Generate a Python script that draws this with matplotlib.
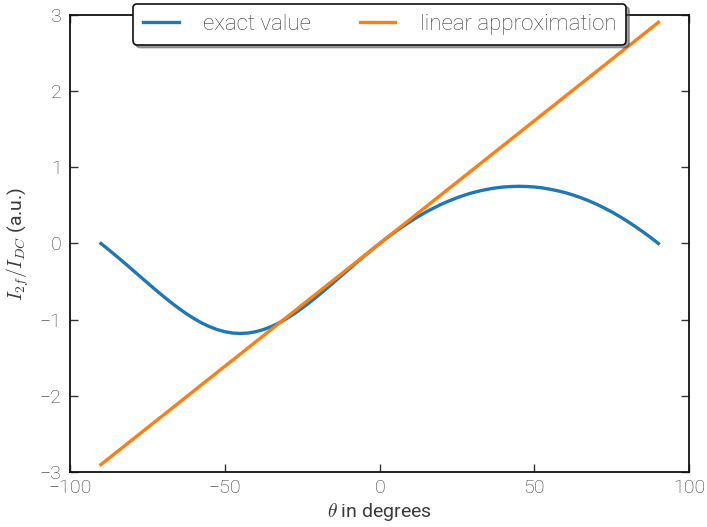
import matplotlib
matplotlib.use("Agg")
import matplotlib.pyplot as plt

plt.rcParams['font.family'] = ['Roboto', 'DejaVu Sans']
plt.rcParams['font.weight'] = 'light'
plt.rcParams['mathtext.fontset'] = 'cm'
plt.rcParams['axes.unicode_minus'] = True

# angle in degrees and the measured signal ratio
theta_deg = [-90, -87.5, -85, -82.5, -80, -77.5, -75, -72.5, -70, -67.5, -65, -62.5,
             -60, -57.5, -55, -52.5, -50, -47.5, -45, -42.5, -40, -37.5, -35, -32.5,
             -30, -27.5, -25, -22.5, -20, -17.5, -15, -12.5, -10, -7.5, -5, -2.5,
             0, 2.5, 5, 7.5, 10, 12.5, 15, 17.5, 20, 22.5, 25, 27.5, 30, 32.5, 35,
             37.5, 40, 42.5, 45, 47.5, 50, 52.5, 55, 57.5, 60, 62.5, 65, 67.5, 70,
             72.5, 75, 77.5, 80, 82.5, 85, 87.5, 90]
exact_value = [0.0, -0.082, -0.166, -0.252, -0.340, -0.428, -0.516, -0.603, -0.688,
               -0.770, -0.847, -0.919, -0.984, -1.042, -1.090, -1.129, -1.157, -1.175,
               -1.180, -1.175, -1.157, -1.129, -1.090, -1.042, -0.984, -0.919, -0.847,
               -0.770, -0.688, -0.603, -0.516, -0.428, -0.340, -0.252, -0.166, -0.082,
               0.0, 0.079, 0.153, 0.224, 0.291, 0.354, 0.413, 0.466, 0.516, 0.560,
               0.600, 0.635, 0.666, 0.691, 0.712, 0.729, 0.741, 0.747, 0.750, 0.747,
               0.741, 0.729, 0.712, 0.691, 0.666, 0.635, 0.600, 0.560, 0.516, 0.466,
               0.413, 0.354, 0.291, 0.224, 0.153, 0.079, 0.0]

linear_theta = [-90, 90]
linear_value = [-2.90, 2.90]

xticks = [-100, -50, 0, 50, 100]
yticks = [-3, -2, -1, 0, 1, 2, 3]

text_color = '#3a3a3a'

fig = plt.figure(figsize=(7.07, 5.27), dpi=100)
ax = fig.add_axes([0.099, 0.104, 0.876, 0.868])

ax.plot(theta_deg, exact_value, color='#1f77b4', lw=2.4, label='exact value',
        solid_joinstyle='round')
ax.plot(linear_theta, linear_value, color='#ff7f0e', lw=2.4, label='linear approximation')

ax.set_xlim(-100, 100)
ax.set_ylim(-3, 3)
ax.set_xticks(xticks)
ax.set_yticks(yticks)
ax.tick_params(direction='in', top=True, right=True, length=6, width=1,
               labelsize=14, color='#333333', labelcolor=text_color)
ax.tick_params(axis='x', pad=5)
ax.tick_params(axis='y', pad=6)
for sp in ax.spines.values():
    sp.set_linewidth(1.3)
    sp.set_color('#111111')

ax.set_xlabel(r'$\theta$ in degrees', fontsize=14, color=text_color, labelpad=3)
ax.set_ylabel(r'$I_{2f}/I_{DC}$ (a.u.)', fontsize=14, color=text_color, labelpad=6)

leg = ax.legend(loc='upper center', bbox_to_anchor=(0.5, 1.024), borderaxespad=0,
                ncol=2, fontsize=16, fancybox=True, shadow=True, frameon=True,
                columnspacing=2.2, handlelength=1.6, handletextpad=1.1,
                borderpad=0.45)
leg.get_frame().set_edgecolor('#111111')
leg.get_frame().set_linewidth(1.2)
for t in leg.get_texts():
    t.set_color(text_color)

fig.savefig('out.png', dpi=100)
